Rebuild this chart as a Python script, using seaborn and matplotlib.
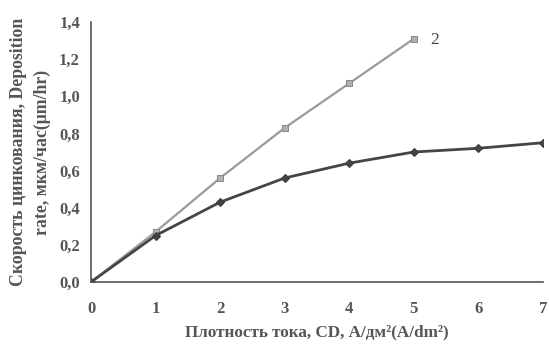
import matplotlib
matplotlib.use("Agg")
import matplotlib.pyplot as plt
import seaborn as sns
import pandas as pd
from matplotlib.ticker import FuncFormatter, MultipleLocator

# Data
cd_1 = [0, 1, 2, 3, 4, 5, 6, 7]
rate_1 = [0.0, 0.25, 0.43, 0.56, 0.64, 0.70, 0.72, 0.75]
cd_2 = [0, 1, 2, 3, 4, 5]
rate_2 = [0.0, 0.27, 0.56, 0.83, 1.07, 1.31]
series_labels = ["1", "2"]

df = pd.concat([
    pd.DataFrame({"cd": cd_1, "rate": rate_1, "series": series_labels[0]}),
    pd.DataFrame({"cd": cd_2, "rate": rate_2, "series": series_labels[1]}),
])

sns.set_style("white")
plt.rcParams["font.family"] = ["Liberation Serif", "DejaVu Serif"]

fig = plt.figure(figsize=(5.49, 3.45), dpi=100)
ax = fig.add_axes([91/549, 1-282/345, (543-91)/549, 260/345])

text_c = "#555555"
sns.lineplot(data=df[df.series == "2"], x="cd", y="rate", ax=ax, color="#9a9a9a",
             marker="s", markersize=5, markeredgecolor="#8a8a8a", markerfacecolor="#b0b0b0",
             linewidth=1.6, legend=False)
sns.lineplot(data=df[df.series == "1"], x="cd", y="rate", ax=ax, color="#454545",
             marker="D", markersize=4.5, markeredgecolor="#3a3a3a",
             linewidth=2.0, legend=False)

ax.annotate("2", xy=(cd_2[-1], rate_2[-1]), xytext=(12, -1), textcoords="offset points",
            fontsize=12.5, color="#444444", va="center", ha="left")

ax.set_xlim(0, 7)
ax.set_ylim(0, 1.4)
ax.xaxis.set_major_locator(MultipleLocator(1))
ax.yaxis.set_major_locator(MultipleLocator(0.2))
ax.yaxis.set_major_formatter(FuncFormatter(lambda v, p: f"{v:.1f}".replace(".", ",")))

for s in ["top", "right"]:
    ax.spines[s].set_visible(False)
for s in ["left", "bottom"]:
    ax.spines[s].set_color("#555555")
    ax.spines[s].set_linewidth(1.2)

ax.tick_params(axis="both", direction="out", length=4, width=1, color="#555555",
               labelsize=12, labelcolor=text_c)
ax.tick_params(axis="x", pad=10)
ax.tick_params(axis="y", pad=4)
for lbl in ax.get_xticklabels() + ax.get_yticklabels():
    lbl.set_fontweight("bold")

ax.set_xlabel("Плотность тока, CD, А/дм²(A/dm²)", fontsize=12.3, color=text_c,
              fontweight="bold", labelpad=5)
ax.set_ylabel("Скорость цинкования, Deposition\nrate, мкм/час(μm/hr)", fontsize=12.8,
              color=text_c, fontweight="bold", labelpad=6, linespacing=1.5)

fig.savefig("out.png", dpi=100, facecolor="white")
